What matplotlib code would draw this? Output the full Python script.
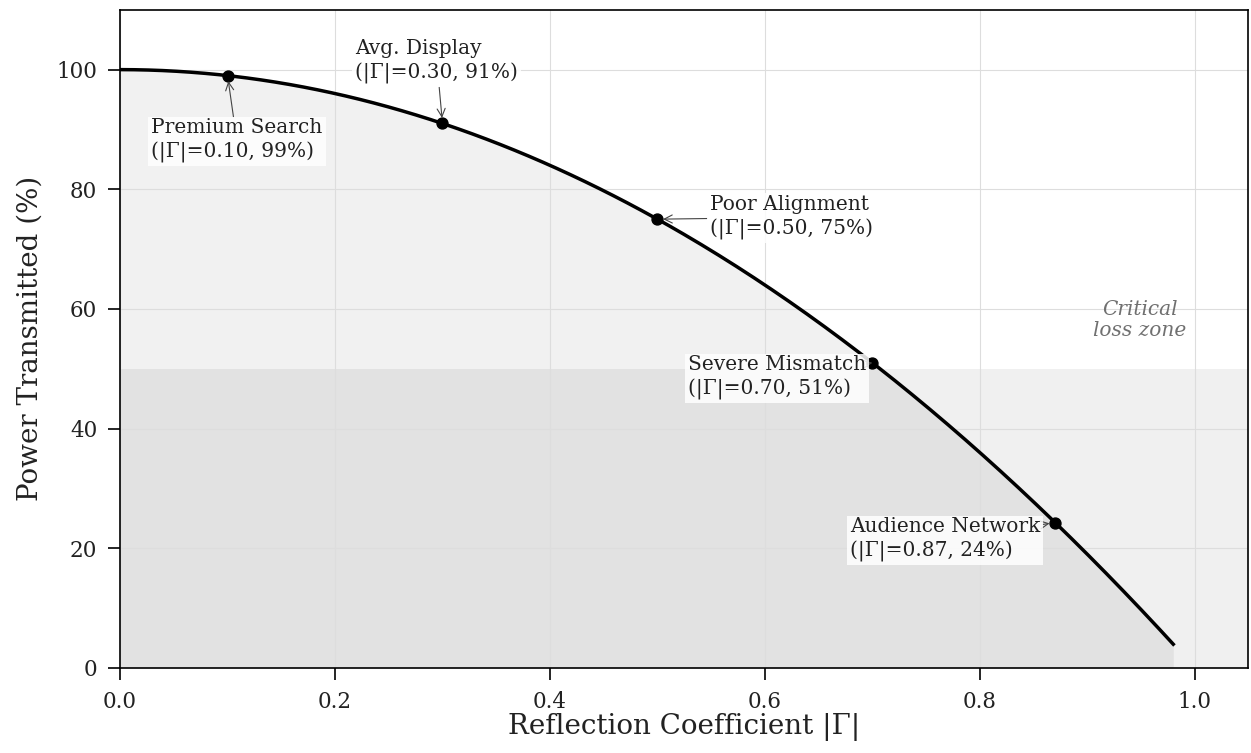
import numpy as np
import matplotlib
matplotlib.use("Agg")
import matplotlib.pyplot as plt

plt.rcParams['font.family'] = ['DejaVu Serif']

# data
gamma_pts = [0.10, 0.30, 0.50, 0.70, 0.87]
power_pts = [99, 91, 75, 51, 24.3]
names = ["Premium Search", "Avg. Display", "Poor Alignment", "Severe Mismatch", "Audience Network"]
pct_labels = ["99%", "91%", "75%", "51%", "24%"]
gamma_curve = np.linspace(0, 0.98, 300)
power_curve = (1 - gamma_curve**2) * 100
threshold = 50

fig = plt.figure(figsize=(12.51, 7.53), dpi=100)
ax = fig.add_axes([0.096, 0.113, 0.902, 0.874])

ax.axhspan(0, threshold, color='black', alpha=0.06, lw=0, zorder=0)
ax.fill_between(gamma_curve, 0, power_curve, color='black', alpha=0.055, lw=0, zorder=0)
ax.plot(gamma_curve, power_curve, color='black', lw=2.5, zorder=3)
ax.scatter(gamma_pts, power_pts, s=62, color='black', zorder=4)

text_pos = [(0.029, 88.1), (0.219, 101.3), (0.549, 75.3), (0.528, 48.5), (0.679, 21.4)]
for (g, p, n, pl, tp) in zip(gamma_pts, power_pts, names, pct_labels, text_pos):
    ax.annotate(f"{n}\n(|Γ|={g:.2f}, {pl})", xy=(g, p), xytext=tp,
                fontsize=14.5, ha='left', va='center', zorder=5, linespacing=1.3,
                color='#222222',
                bbox=dict(boxstyle='square,pad=0.15', fc='white', ec='none', alpha=0.85),
                arrowprops=dict(arrowstyle='->', color='#444444', lw=0.8, shrinkA=0, shrinkB=4))

ax.text(0.949, 58.2, "Critical\nloss zone", fontsize=14.5, style='italic', color='#707070',
        ha='center', va='center', linespacing=1.15)

ax.set_xlim(0, 1.05)
ax.set_ylim(0, 110)
ax.set_xticks([0.0, 0.2, 0.4, 0.6, 0.8, 1.0])
ax.set_yticks([0, 20, 40, 60, 80, 100])
ax.grid(True, color='#dddddd', lw=0.8, zorder=1)
ax.set_axisbelow(True)
ax.tick_params(labelsize=15.5, length=8.5, width=1.2, pad=8, labelcolor='#222222')
for s in ax.spines.values():
    s.set_linewidth(1.2)
ax.set_xlabel("Reflection Coefficient |Γ|", fontsize=20, labelpad=0, color='#222222')
ax.set_ylabel("Power Transmitted (%)", fontsize=20, labelpad=9, color='#222222')

fig.savefig("out.png", dpi=100)
